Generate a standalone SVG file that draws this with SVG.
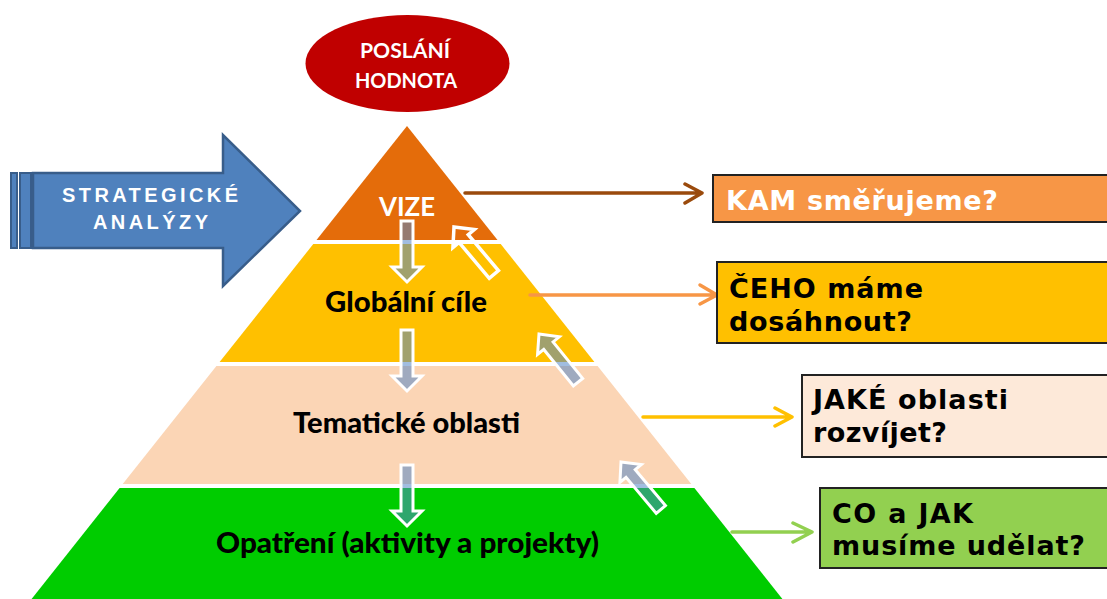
<svg xmlns="http://www.w3.org/2000/svg" width="1107" height="599" viewBox="0 0 1107 599">
<style>
.pyr{font-family:Lato,"Open Sans","Noto Sans",sans-serif;font-weight:bold;}
.heavy{font-weight:900;}
.box{stroke:#222;stroke-width:2;}
.btxt{font-family:"DejaVu Sans",Verdana,sans-serif;font-weight:bold;font-size:27px;}
.atxt{font-family:"Liberation Sans",Arial,sans-serif;font-weight:bold;font-size:20px;fill:#fff;}
.dn{fill:#5486C6;fill-opacity:0.55;stroke:#fff;stroke-width:3;stroke-linejoin:miter;}
.up{fill:#5486C6;fill-opacity:0.55;stroke:#fff;stroke-width:3;}
.hollow{fill:none;stroke:#fff;stroke-width:3.5;}
.con{fill:none;stroke-width:3.5;stroke-linecap:round;stroke-linejoin:round;}
</style>
<defs>
<polygon id="downArrow" points="-6,-62 6,-62 6,-16 15,-16 0,-1 -15,-16 -6,-16"/>
<polygon id="upArrow" points="0,0 14,15 6,15 6,62 -6,62 -6,15 -14,15"/>
</defs>
<rect width="1107" height="599" fill="#fff"/>

<g id="strategicke-analyzy">
<rect x="11" y="173" width="6" height="75" fill="#4F81BD" stroke="#385D8A" stroke-width="2"/>
<rect x="20" y="173" width="11" height="75" fill="#4F81BD" stroke="#385D8A" stroke-width="2"/>
<polygon points="33,173 223,173 223,135 300,211 223,286 223,248 33,248" fill="#4F81BD" stroke="#385D8A" stroke-width="2.5"/>
<text x="150" y="202" text-anchor="middle" class="atxt" textLength="176" lengthAdjust="spacing">STRATEGICKÉ</text>
<text x="150.5" y="229" text-anchor="middle" class="atxt" textLength="115" lengthAdjust="spacing">ANALÝZY</text>
</g>

<g id="poslani">
<ellipse cx="407.5" cy="63.5" rx="102" ry="48.5" fill="#C00000"/>
<text x="405" y="58" text-anchor="middle" fill="#fff" class="pyr" font-size="21" textLength="90" lengthAdjust="spacingAndGlyphs">POSLÁNÍ</text>
<text x="406" y="88" text-anchor="middle" fill="#fff" class="pyr" font-size="21" textLength="102" lengthAdjust="spacingAndGlyphs">HODNOTA</text>
</g>

<g id="vize">
<polygon points="407,126 497.5,240 316.5,240" fill="#E46C0A"/>
<text x="407" y="216" text-anchor="middle" fill="#fff" class="pyr" font-size="27" textLength="56" lengthAdjust="spacingAndGlyphs">VIZE</text>
</g>
<g id="globalni-cile">
<polygon points="313.3,244 500.7,244 594.4,362 219.6,362" fill="#FFC000"/>
<text x="406" y="312" text-anchor="middle" fill="#000" class="pyr heavy" font-size="29" textLength="162" lengthAdjust="spacingAndGlyphs">Globální cíle</text>
</g>
<g id="tematicke-oblasti">
<polygon points="216.4,366 597.6,366 691.3,484 122.7,484" fill="#FBD5B5"/>
<text x="406.5" y="433" text-anchor="middle" fill="#000" class="pyr heavy" font-size="29" textLength="227" lengthAdjust="spacingAndGlyphs">Tematické oblasti</text>
</g>
<g id="opatreni">
<polygon points="119.6,488 694.4,488 784,601 30,601" fill="#00CC00"/>
<text x="407.5" y="553" text-anchor="middle" fill="#000" class="pyr heavy" font-size="29" textLength="383" lengthAdjust="spacingAndGlyphs">Opatření (aktivity a projekty)</text>
</g>

<g id="flow-arrows">
<use href="#downArrow" class="dn" transform="translate(407,283)"/>
<use href="#downArrow" class="dn" transform="translate(407,392)"/>
<use href="#downArrow" class="dn" transform="translate(407,527)"/>
<use href="#upArrow" class="hollow" transform="translate(454,227) rotate(-40)"/>
<use href="#upArrow" class="up" transform="translate(539,334) rotate(-39)"/>
<use href="#upArrow" class="up" transform="translate(621,462) rotate(-40)"/>
</g>

<g id="connectors">
<path class="con" stroke="#9A4A0C" d="M465,193 H700 M685,184 L702,193 L685,203"/>
<path class="con" stroke="#F79646" d="M530,295 H715 M700,285 L717,295 L700,304"/>
<path class="con" stroke="#FFC000" d="M643,417 H790 M775,408 L792,417 L775,426"/>
<path class="con" stroke="#92D050" d="M732,532 H810 M793,523 L812,532 L793,542"/>
</g>

<g id="kam">
<rect x="713" y="175" width="400" height="47" fill="#F79646" class="box"/>
<text x="726" y="210" fill="#fff" class="btxt" textLength="272" lengthAdjust="spacing">KAM směřujeme?</text>
</g>
<g id="ceho">
<rect x="717" y="262" width="400" height="81" fill="#FFC000" class="box"/>
<text x="729" y="298" fill="#000" class="btxt" textLength="194" lengthAdjust="spacing">ČEHO máme</text>
<text x="729" y="331" fill="#000" class="btxt" textLength="183" lengthAdjust="spacing">dosáhnout?</text>
</g>
<g id="jake">
<rect x="802" y="375" width="400" height="82" fill="#FDE9D9" class="box"/>
<text x="813" y="409" fill="#000" class="btxt" textLength="195" lengthAdjust="spacing">JAKÉ oblasti</text>
<text x="813" y="442" fill="#000" class="btxt" textLength="134" lengthAdjust="spacing">rozvíjet?</text>
</g>
<g id="co-jak">
<rect x="820" y="488" width="400" height="80" fill="#92D050" class="box"/>
<text x="832" y="523" fill="#000" class="btxt" textLength="141" lengthAdjust="spacing">CO a JAK</text>
<text x="832" y="555" fill="#000" class="btxt" textLength="253" lengthAdjust="spacing">musíme udělat?</text>
</g>
</svg>
